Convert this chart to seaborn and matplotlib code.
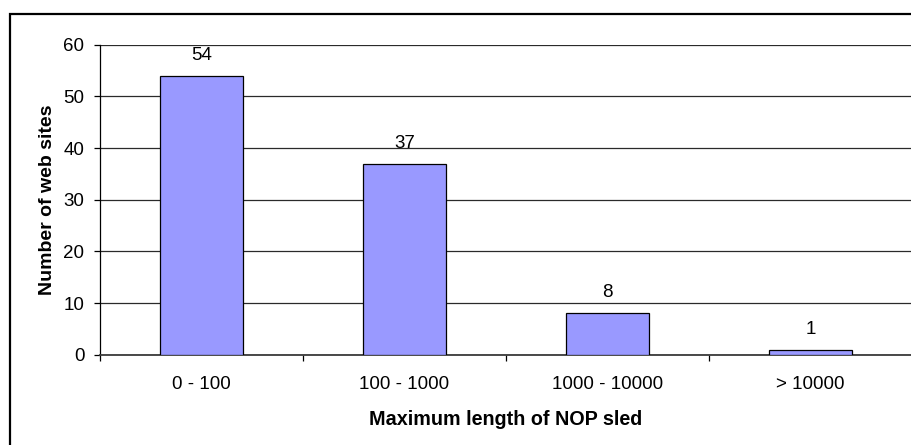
import matplotlib
matplotlib.use("Agg")
import matplotlib.pyplot as plt
from matplotlib.patches import Rectangle
import seaborn as sns

# Histogram of the longest NOP sled observed per web site
categories = ["0 - 100", "100 - 1000", "1000 - 10000", "> 10000"]
site_counts = [54, 37, 8, 1]
y_ticks = [0, 10, 20, 30, 40, 50, 60]

sns.set_style("white")
plt.rcParams["font.family"] = ["Liberation Sans", "DejaVu Sans"]
plt.rcParams["text.color"] = "black"
plt.rcParams["axes.labelcolor"] = "black"
plt.rcParams["xtick.color"] = "black"
plt.rcParams["ytick.color"] = "black"

W, H, DPI = 912, 445, 100
FS = 13.5
fig = plt.figure(figsize=(W / DPI, H / DPI), dpi=DPI)
ax = fig.add_axes([100 / W, 1 - 354.7 / H, (W - 100) / W, (354.7 - 44.7) / H])

sns.barplot(x=categories, y=site_counts, order=categories, color="#9999FF",
            saturation=1, edgecolor="black", linewidth=0.9, width=0.405, ax=ax,
            zorder=3)

# value labels over each bar
for i, v in enumerate(site_counts):
    ax.annotate(str(v), xy=(i, v), xytext=(0, 11.5), textcoords="offset points",
                ha="center", va="baseline", fontsize=FS, color="black")

ax.set_xlim(-0.5, len(categories) - 0.5)
ax.set_ylim(0, 60)
ax.set_yticks(y_ticks)
ax.set_yticklabels([str(t) for t in y_ticks])
ax.yaxis.grid(True, color="#2a2a2a", linewidth=0.9, zorder=0)
ax.set_axisbelow(True)

# category tick marks sit between the bars
ax.set_xticks(range(len(categories)))
ax.set_xticklabels(categories)
ax.set_xticks([k + 0.5 for k in range(-1, len(categories))], minor=True)
ax.tick_params(axis="x", which="major", length=0, pad=15.3, labelsize=FS)
ax.tick_params(axis="x", which="minor", length=4, width=0.9, color="black",
               direction="out", bottom=True)
ax.tick_params(axis="y", length=4, width=0.9, color="black", direction="out",
               left=True, pad=7.3, labelsize=FS)

for side in ("top", "right"):
    ax.spines[side].set_visible(False)
ax.spines["left"].set_color("black")
ax.spines["left"].set_linewidth(0.9)
ax.spines["bottom"].set_color("#3a3a3a")
ax.spines["bottom"].set_linewidth(1.3)

ax.set_xlabel("Maximum length of NOP sled", fontsize=14.2, fontweight="bold",
              labelpad=12.3)
ax.set_ylabel("Number of web sites", fontsize=14, fontweight="bold",
              labelpad=5.5)

# chart frame running off the right and bottom edges
fig.patches.append(Rectangle((10 / W, -0.1), 1.2, 1 - 13.5 / H + 0.1,
                             transform=fig.transFigure, fill=False,
                             edgecolor="black", linewidth=1.6, clip_on=False))

fig.savefig("out.png", dpi=DPI)
